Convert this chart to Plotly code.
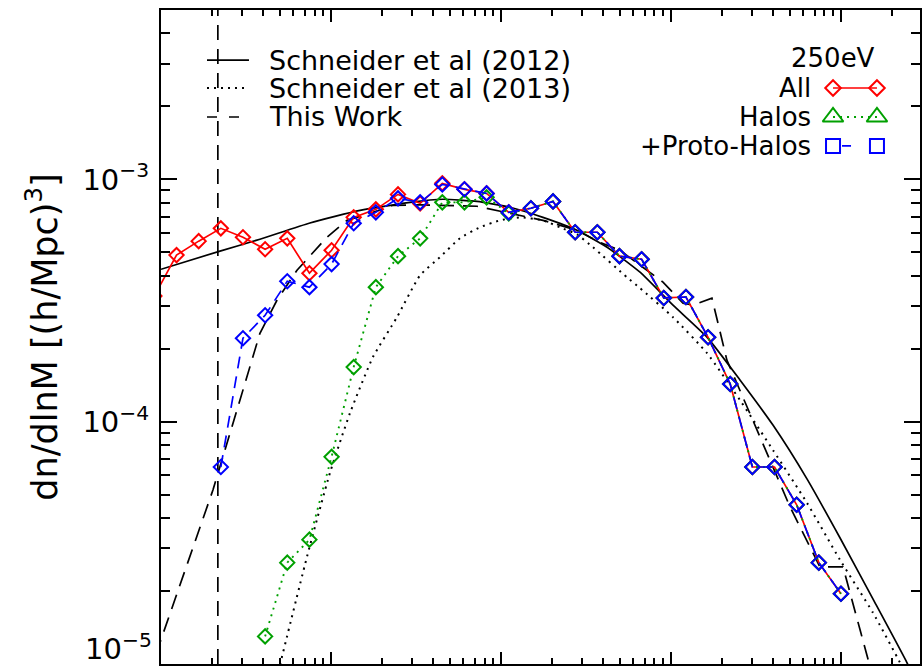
import numpy as np
import plotly.graph_objects as go

# ---------------- data ----------------
# halo mass bins [Msun/h]
mass = [9.14e7, 1.234e8, 1.666e8, 2.249e8, 3.035e8, 4.097e8, 5.531e8, 7.466e8,
        1.008e9, 1.360e9, 1.836e9, 2.479e9, 3.346e9, 4.517e9, 6.097e9, 8.230e9,
        1.111e10, 1.500e10, 2.024e10, 2.732e10, 3.688e10, 4.979e10, 6.721e10, 9.072e10,
        1.225e11, 1.653e11, 2.231e11, 3.012e11, 4.066e11, 5.488e11, 7.408e11, 1.0e12]

all_dn = [3.30e-4, 4.87e-4, 5.56e-4, 6.28e-4, 5.77e-4, 5.15e-4, 5.71e-4, 4.10e-4,
          5.10e-4, 6.97e-4, 7.52e-4, 8.67e-4, 7.96e-4, 9.63e-4, 9.10e-4, 8.75e-4,
          7.31e-4, 7.60e-4, 8.11e-4, 6.05e-4, 6.05e-4, 4.82e-4, 4.68e-4, 3.24e-4,
          3.27e-4, 2.23e-4, 1.43e-4, 6.50e-5, 6.50e-5, 4.54e-5, 2.62e-5, 1.95e-5]

halos_dn = [None, None, None, None, None, 1.30e-5, 2.62e-5, 3.26e-5,
            7.16e-5, 1.68e-4, 3.59e-4, 4.82e-4, 5.71e-4, 8.04e-4, 8.04e-4, 8.43e-4,
            7.24e-4, 7.60e-4, 8.11e-4, 6.05e-4, 6.05e-4, 4.82e-4, 4.68e-4, 3.24e-4,
            3.27e-4, 2.23e-4, 1.43e-4, 6.50e-5, 6.50e-5, 4.54e-5, 2.62e-5, 1.95e-5]

proto_dn = [None, None, None, 6.50e-5, 2.21e-4, 2.75e-4, 3.80e-4, 3.59e-4,
            4.47e-4, 6.59e-4, 7.31e-4, 8.35e-4, 8.04e-4, 9.53e-4, 9.10e-4, 8.75e-4,
            7.31e-4, 7.60e-4, 8.11e-4, 6.05e-4, 6.05e-4, 4.82e-4, 4.68e-4, 3.24e-4,
            3.27e-4, 2.23e-4, 1.43e-4, 6.50e-5, 6.50e-5, 4.54e-5, 2.62e-5, 1.95e-5]

# model curves (log10 M, log10 dn/dlnM)
s12_logM = [8.000, 8.347, 8.582, 8.876, 9.171, 9.465, 9.659, 9.859, 10.053, 10.247, 10.447,
            10.624, 10.818, 11.012, 11.212, 11.406, 11.600, 11.800, 11.994, 12.188, 12.388, 12.43]
s12_logdn = [-3.371, -3.296, -3.247, -3.180, -3.128, -3.095, -3.082, -3.091, -3.115, -3.157, -3.210,
             -3.280, -3.383, -3.519, -3.651, -3.828, -4.014, -4.236, -4.479, -4.731, -4.994, -5.06]

s13_logM = [8.680, 8.859, 8.994, 9.112, 9.247, 9.388, 9.524, 9.641, 9.759, 9.876, 9.994, 10.112,
            10.247, 10.347, 10.447, 10.541, 10.741, 10.818, 11.012, 11.212, 11.406, 11.600,
            11.800, 11.994, 12.188, 12.347, 12.39]
s13_logdn = [-5.06, -4.557, -4.211, -3.964, -3.733, -3.569, -3.396, -3.321, -3.243, -3.198, -3.169, -3.157,
             -3.169, -3.198, -3.227, -3.280, -3.404, -3.449, -3.569, -3.717, -3.911, -4.117,
             -4.335, -4.570, -4.788, -4.994, -5.06]

tw_logM = [7.970, 8.306, 8.447, 8.582, 8.682, 8.800, 8.976, 9.094, 9.247, 9.365, 9.524, 9.659,
           9.859, 10.053, 10.247, 10.447, 10.582, 10.700, 10.953, 11.071, 11.129, 11.241, 11.329,
           11.506, 11.700, 11.876, 12.012, 12.112, 12.190]
tw_logdn = [-4.960, -4.281, -3.952, -3.635, -3.499, -3.375, -3.239, -3.169, -3.136, -3.107, -3.105, -3.107,
            -3.111, -3.140, -3.169, -3.210, -3.260, -3.293, -3.424, -3.511, -3.519, -3.490, -3.746,
            -4.034, -4.351, -4.599, -4.599, -4.858, -5.06]

resolution_mass = 2.16e8
y_limits = [1e-5, 5e-3]

legend_left = ["Schneider et al (2012)", "Schneider et al (2013)", "This Work"]
legend_right = ["All", "Halos", "+Proto-Halos"]
legend_head = "250eV"

# ---------------- styling ----------------
FONT = "DejaVu Sans"
RED, GREEN, BLUE, BLACK = "#ff0000", "#00a000", "#0000ff", "#000000"
LONGDASH = "15px,9px"
DOTS = "2px,5px"

fig = go.Figure()

# model curves
fig.add_trace(go.Scatter(x=10 ** np.array(s12_logM), y=10 ** np.array(s12_logdn), mode="lines",
                         line=dict(color=BLACK, width=1.7, shape="spline", smoothing=0.5),
                         showlegend=False))
fig.add_trace(go.Scatter(x=10 ** np.array(s13_logM), y=10 ** np.array(s13_logdn), mode="lines",
                         line=dict(color=BLACK, width=2, dash=DOTS, shape="spline", smoothing=0.5),
                         showlegend=False))
fig.add_trace(go.Scatter(x=10 ** np.array(tw_logM), y=10 ** np.array(tw_logdn), mode="lines",
                         line=dict(color=BLACK, width=1.7, dash=LONGDASH),
                         showlegend=False))
# resolution limit
fig.add_trace(go.Scatter(x=[resolution_mass, resolution_mass], y=y_limits, mode="lines",
                         line=dict(color=BLACK, width=1.7, dash=LONGDASH), showlegend=False))

# simulation data
mk = dict(symbol="diamond-open", size=11, line=dict(width=2))
fig.add_trace(go.Scatter(x=mass, y=all_dn, mode="lines+markers",
                         line=dict(color=RED, width=1.7),
                         marker=dict(color=RED, **mk), showlegend=False))
fig.add_trace(go.Scatter(x=mass, y=halos_dn, mode="lines+markers",
                         line=dict(color=GREEN, width=1.9, dash=DOTS),
                         marker=dict(color=GREEN, **mk), showlegend=False))
fig.add_trace(go.Scatter(x=mass, y=proto_dn, mode="lines+markers",
                         line=dict(color=BLUE, width=1.7, dash="12px,8px"),
                         marker=dict(color=BLUE, **mk), showlegend=False))

# ---------------- hand-drawn legends on an overlay axis (0..1 over the plot area) ----------------
L_y = [0.9235, 0.8807, 0.8364]
L_x = [0.0606, 0.1159]
left_styles = [dict(color=BLACK, width=1.7), dict(color=BLACK, width=2, dash=DOTS),
               dict(color=BLACK, width=1.7, dash="10px,12px")]
for yy, st in zip(L_y, left_styles):
    fig.add_trace(go.Scatter(x=L_x, y=[yy, yy], mode="lines", line=st, xaxis="x2", yaxis="y2",
                             showlegend=False, hoverinfo="skip"))

R_x = [0.8854, 0.9433]
R_y = [0.8807, 0.8364, 0.7922]
right_styles = [
    (dict(color=RED, width=1.7), dict(symbol="diamond-open", size=12, color=RED, line=dict(width=2))),
    (dict(color=GREEN, width=1.9, dash=DOTS), dict(symbol="triangle-up-open", size=18, color=GREEN, line=dict(width=2))),
    (dict(color=BLUE, width=1.7, dash="0px,9px,9px,60px"), dict(symbol="square-open", size=14, color=BLUE, line=dict(width=2))),
]
for yy, (ln, mkk) in zip(R_y, right_styles):
    fig.add_trace(go.Scatter(x=R_x, y=[yy, yy], mode="lines+markers", line=ln, marker=mkk,
                             xaxis="x2", yaxis="y2", showlegend=False, hoverinfo="skip"))

annotations = []
for yy, txt in zip(L_y, legend_left):
    annotations.append(dict(x=0.1397, y=yy, xref="paper", yref="paper", text=txt, showarrow=False,
                            xanchor="left", yanchor="middle", font=dict(family=FONT, size=27, color=BLACK)))
annotations.append(dict(x=0.9433, y=0.9266, xref="paper", yref="paper", text=legend_head, showarrow=False,
                        xanchor="right", yanchor="middle", font=dict(family=FONT, size=26, color=BLACK)))
for yy, txt in zip(R_y, legend_right):
    annotations.append(dict(x=0.859, y=yy, xref="paper", yref="paper", text=txt, showarrow=False,
                            xanchor="right", yanchor="middle", font=dict(family=FONT, size=26, color=BLACK)))
# bottom tick label (kept inside the picture like the reference)
annotations.append(dict(x=0, y=0, xref="paper", yref="paper", text="10<sup>\u22125</sup>", showarrow=False,
                        xanchor="right", yanchor="bottom", xshift=-7, yshift=-4,
                        font=dict(family=FONT, size=29, color=BLACK)))

axis_common = dict(showline=True, linewidth=2, linecolor=BLACK, mirror="allticks",
                   ticks="inside", tickwidth=2, tickcolor=BLACK, showgrid=False, zeroline=False)

fig.update_layout(
    width=922, height=666,
    margin=dict(l=161, r=2, t=10, b=2, autoexpand=False),
    paper_bgcolor="white", plot_bgcolor="white",
    font=dict(family=FONT, color=BLACK),
    xaxis=dict(type="log", range=[8, 12.465], ticklen=12, dtick=1, showticklabels=False,
               minor=dict(ticks="inside", ticklen=6, tickwidth=1.5, tickcolor=BLACK, dtick="D1"),
               **axis_common),
    yaxis=dict(type="log", range=[-5, np.log10(5e-3)], ticklen=16,
               tickvals=[1e-5, 1e-4, 1e-3], ticktext=["", "10<sup>\u22124</sup>", "10<sup>\u22123</sup>"],
               tickfont=dict(family=FONT, size=29, color=BLACK), ticklabelstandoff=4,
               minor=dict(ticks="inside", ticklen=9, tickwidth=1.5, tickcolor=BLACK, dtick="D1"),
               title=dict(text="dn/dlnM [(h/Mpc)<sup>3</sup>]", font=dict(family=FONT, size=35, color=BLACK),
                          standoff=14),
               **axis_common),
    xaxis2=dict(overlaying="x", anchor="y2", range=[0, 1], visible=False, fixedrange=True),
    yaxis2=dict(overlaying="y", anchor="x2", range=[0, 1], visible=False, fixedrange=True),
    annotations=annotations,
    showlegend=False,
)

fig.write_html("out.html")
